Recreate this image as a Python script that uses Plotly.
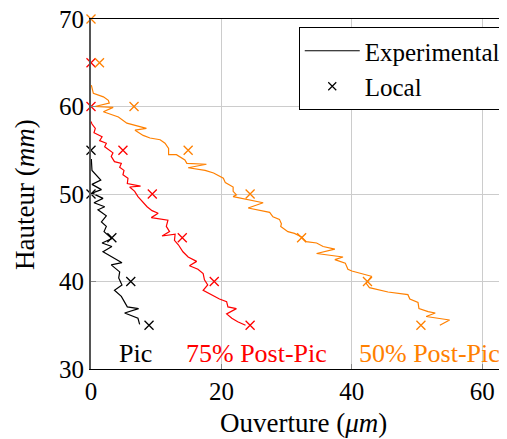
import plotly.graph_objects as go

# Experimental curves (ouverture in um, hauteur in mm)
x_pic = [0.05, 0.15, 1.5, 0.15, 1.6, 0.15, 1.84, 0.46, 2.1, 1.07, 2.35, 1.6, 2.35, 2.0, 3.2, 1.7, 3.2, 1.84,
         4.75, 3.1, 4.4, 4.25, 4.75, 3.6, 4.65, 5.57, 7.3, 5.16, 7.2, 7.46]
y_pic = [54.0, 52.7, 51.6, 51.1, 50.5, 50.1, 49.5, 49.0, 48.55, 48.2, 47.5, 46.8, 46.3, 45.7, 44.9, 44.4, 44.0, 43.4,
         42.15, 41.9, 41.1, 40.4, 39.6, 39.0, 38.3, 37.1, 36.9, 36.4, 35.8, 35.1]

x_75 = [0.0, 0.15, 0.66, 0.46, 1.7, 1.33, 2.35, 2.1, 3.37, 3.1, 3.6, 4.65, 4.4, 5.06, 4.9, 5.67, 5.57, 7.6, 5.93, 6.7,
        7.2, 7.7, 8.2, 8.6, 9.36, 10.3, 9.25, 11.8, 11.55, 12.05, 10.9, 12.9, 12.8, 13.4, 14.1, 14.9, 16.2, 15.1, 16.4,
        17.2, 17.4, 17.9, 17.2, 18.5, 19.7, 20.8, 21.0, 22.3, 20.8, 21.6, 22.5, 23.7]
y_75 = [58.3, 58.0, 57.5, 57.0, 56.55, 56.1, 55.8, 55.4, 54.7, 54.3, 53.7, 53.5, 53.05, 52.7, 52.2, 51.8, 51.2, 50.9,
        50.8, 50.3, 49.7, 49.3, 48.9, 48.55, 48.1, 47.8, 47.3, 47.0, 46.3, 45.7, 45.2, 45.4, 44.7, 44.2, 43.4, 42.8,
        42.3, 41.8, 41.4, 40.9, 40.2, 39.6, 39.0, 38.5, 38.0, 37.7, 37.1, 36.9, 36.3, 35.8, 35.4, 35.0]

x_50 = [0.05, 0.36, 1.9, 2.66, 2.8, 0.6, 3.4, 1.9, 4.2, 5.5, 7.5, 8.5, 6.75, 8.0, 9.05, 10.6, 11.35, 11.9, 11.9, 13.1,
        14.4, 14.7, 17.7, 14.9, 17.5, 18.8, 20.3, 20.6, 21.8, 21.8, 22.3, 21.8, 26.4, 24.1, 27.4, 27.9, 28.9, 29.2,
        29.1, 30.2, 31.2, 32.3, 33.0, 34.6, 35.6, 37.4, 34.6, 38.65, 37.4, 39.0, 39.4, 40.0, 43.0, 42.2, 42.7, 45.55,
        48.6, 48.9, 50.15, 50.3, 51.7, 52.8, 51.4, 55.0, 53.5]
y_50 = [62.45, 61.5, 61.1, 60.7, 60.4, 60.0, 59.9, 59.4, 58.8, 58.1, 57.7, 57.5, 57.3, 56.7, 56.4, 56.2, 55.8, 55.2,
        54.5, 54.5, 53.9, 53.5, 53.4, 53.0, 52.7, 52.4, 51.8, 51.3, 50.8, 50.3, 49.9, 49.7, 49.0, 48.4, 47.9, 47.4,
        47.1, 46.6, 46.3, 45.7, 45.5, 45.1, 44.55, 44.4, 44.0, 43.7, 43.2, 42.8, 42.5, 42.1, 41.4, 41.2, 40.6, 39.8,
        39.3, 38.8, 38.5, 38.0, 37.6, 36.9, 36.55, 36.4, 36.0, 35.6, 35.0]

# Local values
loc_x_pic = [0, 0, 3.2, 6.1, 8.9]
loc_y_pic = [55, 50, 45, 40, 35]
loc_x_75 = [0, 0, 4.9, 9.4, 14.0, 18.9, 24.4]
loc_y_75 = [65, 60, 55, 50, 45, 40, 35]
loc_x_50 = [0, 1.3, 6.6, 14.9, 24.4, 32.3, 42.4, 50.6]
loc_y_50 = [70, 65, 60, 55, 50, 45, 40, 35]

series_labels = ["Pic", "75% Post-Pic", "50% Post-Pic"]
label_x = [6.9, 25.4, 51.9]
label_y = [31.8, 31.8, 31.8]
colors = ["#000000", "#ff0000", "#ff8000"]

FONT = "Liberation Serif"

fig = go.Figure()
curves = [(x_pic, y_pic), (x_75, y_75), (x_50, y_50)]
locs = [(loc_x_pic, loc_y_pic), (loc_x_75, loc_y_75), (loc_x_50, loc_y_50)]
for (cx, cy), c in zip(curves, colors):
    fig.add_trace(go.Scatter(x=cx, y=cy, mode="lines", line=dict(color=c, width=1.2), showlegend=False))
for (lx, ly), c in zip(locs, colors):
    fig.add_trace(go.Scatter(x=lx, y=ly, mode="markers", cliponaxis=False,
                             marker=dict(symbol="x-thin", size=9, line=dict(color=c, width=1.3)),
                             showlegend=False))

# legend entries
fig.add_trace(go.Scatter(x=[None], y=[None], mode="lines", name="Experimental",
                         line=dict(color="black", width=1.2)))
fig.add_trace(go.Scatter(x=[None], y=[None], mode="markers", name="Local",
                         marker=dict(symbol="x-thin", size=8, line=dict(color="black", width=1.2))))

for t, lx, ly, c in zip(series_labels, label_x, label_y, colors):
    fig.add_annotation(x=lx, y=ly, text=t, showarrow=False, font=dict(family=FONT, size=26, color=c),
                       xanchor="center", yanchor="middle")

fig.add_annotation(xref="paper", yref="paper", x=(303 - 91) / 416, y=(369 - 423) / 350,
                   text="Ouverture (<i>μm</i>)", showarrow=False,
                   font=dict(family=FONT, size=27, color="black"), xanchor="center", yanchor="middle")
fig.add_annotation(xref="paper", yref="paper", x=(25 - 91) / 416, y=(369 - 195) / 350,
                   text="Hauteur (<i>mm</i>)", showarrow=False, textangle=-90,
                   font=dict(family=FONT, size=27, color="black"), xanchor="center", yanchor="middle")

# page has an 8px body margin: figure is sized/placed so the plot lands where the reference has it
fig.update_layout(
    width=499, height=431,
    template="none",
    margin=dict(l=83, r=0, t=11, b=70, autoexpand=False),
    paper_bgcolor="white", plot_bgcolor="white",
    font=dict(family=FONT, size=25, color="black"),
    legend=dict(x=0.997, xanchor="right", y=(369 - 27) / 350, yanchor="top",
                bordercolor="black", borderwidth=1, bgcolor="white",
                font=dict(family=FONT, size=25), itemwidth=55, tracegroupgap=0),
    showlegend=True,
)
fig.update_xaxes(range=[0, 63.8], tickvals=[0, 20, 40, 60], showgrid=True, gridcolor="#cccccc", gridwidth=1.2,
                 zeroline=False, showline=True, linecolor="black", linewidth=1.2, mirror=True, automargin=False,
                 ticklabeloverflow="allow",
                 ticks="inside", ticklen=5, tickcolor="#888888", tickfont=dict(family=FONT, size=25))
fig.update_yaxes(range=[30, 70], tickvals=[30, 40, 50, 60, 70], showgrid=True, gridcolor="#cccccc", gridwidth=1.2,
                 zeroline=False, showline=True, linecolor="#555555", linewidth=2.2, automargin=False,
                 ticklabeloverflow="allow",
                 ticks="inside", ticklen=5, tickcolor="#888888", tickfont=dict(family=FONT, size=25))

fig.write_html("out.html")
